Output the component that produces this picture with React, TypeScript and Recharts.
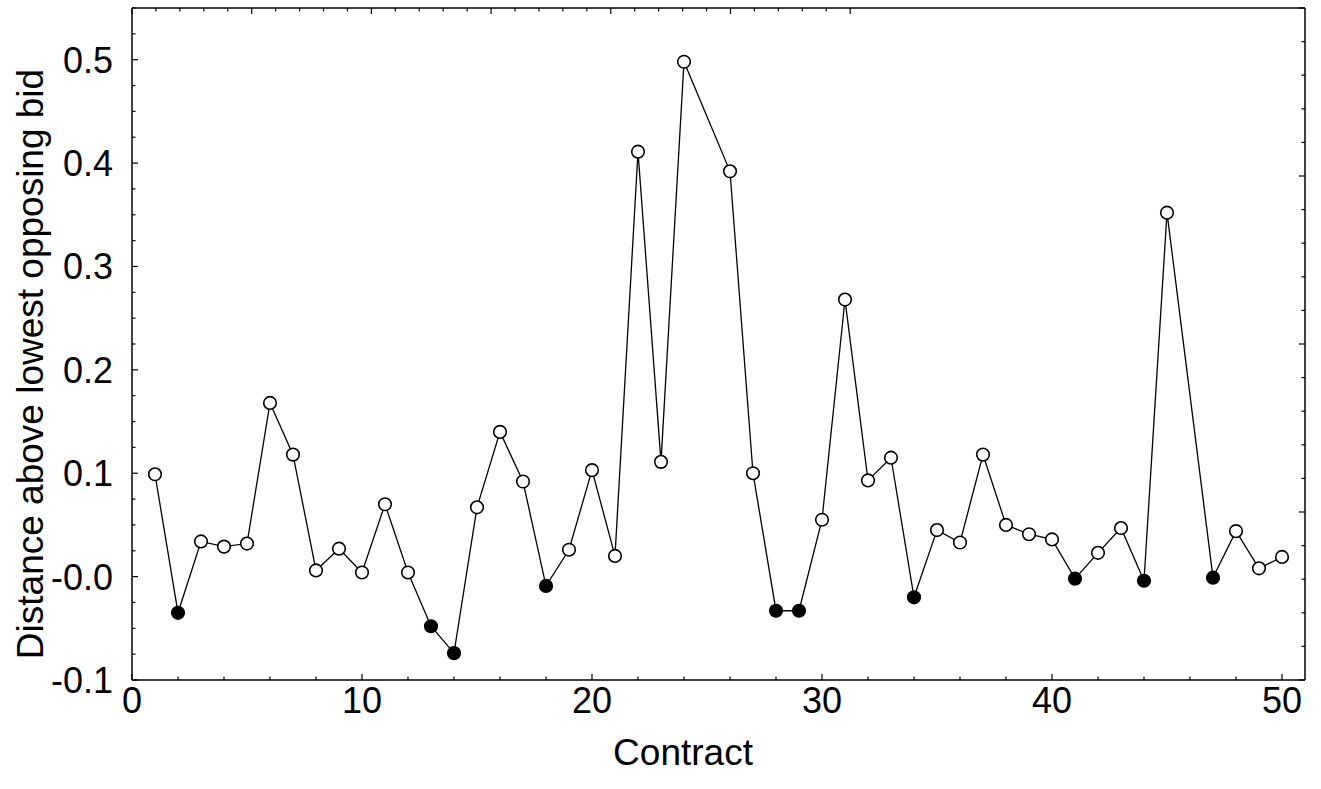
import { LineChart, Line, XAxis, YAxis } from 'recharts';

// contract number and distance above lowest opposing bid (25 and 46 have no value)
const contracts = [
  1, 2, 3, 4, 5, 6, 7, 8, 9, 10, 11, 12, 13, 14, 15, 16, 17, 18, 19, 20, 21, 22, 23, 24, 25,
  26, 27, 28, 29, 30, 31, 32, 33, 34, 35, 36, 37, 38, 39, 40, 41, 42, 43, 44, 45, 46, 47, 48, 49, 50,
];
const distances: (number | null)[] = [
  0.099, -0.035, 0.034, 0.029, 0.032, 0.168, 0.118, 0.006, 0.027, 0.004,
  0.07, 0.004, -0.048, -0.074, 0.067, 0.14, 0.092, -0.009, 0.026, 0.103,
  0.02, 0.411, 0.111, 0.498, null, 0.392, 0.1, -0.033, -0.033, 0.055,
  0.268, 0.093, 0.115, -0.02, 0.045, 0.033, 0.118, 0.05, 0.041, 0.036,
  -0.002, 0.023, 0.047, -0.004, 0.352, null, -0.001, 0.044, 0.008, 0.019,
];

const xMajor = [0, 10, 20, 30, 40, 50];
const xTicks = [0, 2, 4, 6, 8, 10, 12, 14, 16, 18, 20, 22, 24, 26, 28, 30, 32, 34, 36, 38, 40, 42, 44, 46, 48, 50];
const yMajor = [-0.1, 0, 0.1, 0.2, 0.3, 0.4, 0.5];
const yLabels = ['-0.1', '-0.0', '0.1', '0.2', '0.3', '0.4', '0.5'];

const data = contracts.map((c, i) => ({ x: c, v: distances[i] }));

const range = (a: number, b: number, step: number) => {
  const out: number[] = [];
  for (let v = a; v <= b + 1e-9; v += step) out.push(Math.round(v * 1000) / 1000);
  return out;
};
const yTicks = range(-0.1, 0.55, 0.025);
const topTicks = range(0, 30, 1);
const rightTicks = range(0, 20, 1);

const FONT = 'Arial, "Liberation Sans", sans-serif';
const MAJ = 6;
const MIN = 3.5;

const isMajorY = (v: number) => yMajor.some((m) => Math.abs(m - v) < 1e-6);

const BottomTick = (p: any) => {
  const v = p.payload.value;
  const major = xMajor.includes(v);
  return (
    <g>
      <line x1={p.x} x2={p.x} y1={p.y} y2={p.y - (major ? MAJ : MIN)} stroke="#000" strokeWidth={1.2} />
      {major && (
        <text x={p.x} y={p.y + 33} textAnchor="middle" fontSize={36} fontFamily={FONT} fill="#000">
          {v}
        </text>
      )}
    </g>
  );
};

const LeftTick = (p: any) => {
  const v = p.payload.value;
  const major = isMajorY(v);
  const idx = yMajor.findIndex((m) => Math.abs(m - v) < 1e-6);
  return (
    <g>
      <line x1={p.x} x2={p.x + (major ? MAJ : MIN)} y1={p.y} y2={p.y} stroke="#000" strokeWidth={1.2} />
      {major && (
        <text x={p.x - 19} y={p.y + 13} textAnchor="end" fontSize={36} fontFamily={FONT} fill="#000">
          {yLabels[idx]}
        </text>
      )}
    </g>
  );
};

const TopTick = (p: any) => {
  const major = p.payload.value % 5 === 0;
  return <line x1={p.x} x2={p.x} y1={p.y} y2={p.y + (major ? MAJ : MIN)} stroke="#000" strokeWidth={1.2} />;
};

const RightTick = (p: any) => {
  const major = p.payload.value % 5 === 0;
  return <line x1={p.x} x2={p.x - (major ? MAJ : MIN)} y1={p.y} y2={p.y} stroke="#000" strokeWidth={1.2} />;
};

const Dot = (p: any) => {
  const { cx, cy, payload, index } = p;
  if (payload.v == null || cx == null || cy == null) return <g key={`d${index}`} />;
  const filled = payload.v < 0;
  return (
    <circle
      key={`d${index}`}
      cx={cx}
      cy={cy}
      r={6.3}
      fill={filled ? '#000' : '#fff'}
      stroke="#000"
      strokeWidth={1.6}
    />
  );
};

const axisLine = { stroke: '#000', strokeWidth: 1.5 };

export default function App() {
  return (
    <div style={{ position: 'absolute', left: 0, top: 0, background: '#fff' }}>
      <LineChart width={1321} height={789} data={data} margin={{ top: 7, left: 131, right: 15, bottom: 108 }}>
        <XAxis
          xAxisId="bottom"
          dataKey="x"
          type="number"
          domain={[0, 51]}
          ticks={xTicks}
          interval={0}
          height={1}
          tickSize={0}
          tickMargin={0}
          axisLine={axisLine}
          tick={BottomTick}
          allowDataOverflow
        />
        <XAxis
          xAxisId="top"
          orientation="top"
          type="number"
          domain={[0, 30]}
          ticks={topTicks}
          interval={0}
          height={1}
          tickSize={0}
          tickMargin={0}
          axisLine={axisLine}
          tick={TopTick}
          allowDataOverflow
        />
        <YAxis
          yAxisId="left"
          type="number"
          domain={[-0.1, 0.55]}
          ticks={yTicks}
          interval={0}
          width={1}
          tickSize={0}
          tickMargin={0}
          axisLine={axisLine}
          tick={LeftTick}
          allowDataOverflow
        />
        <YAxis
          yAxisId="right"
          orientation="right"
          type="number"
          domain={[0, 20]}
          ticks={rightTicks}
          interval={0}
          width={1}
          tickSize={0}
          tickMargin={0}
          axisLine={axisLine}
          tick={RightTick}
          allowDataOverflow
        />
        <Line
          xAxisId="bottom"
          yAxisId="left"
          type="linear"
          dataKey="v"
          stroke="#000"
          strokeWidth={1.3}
          connectNulls
          dot={Dot}
          activeDot={false}
          isAnimationActive={false}
        />
        <text x={683} y={765} textAnchor="middle" fontSize={37} fontFamily={FONT} fill="#000">
          Contract
        </text>
        <text
          x={43}
          y={364}
          transform="rotate(-90 43 364)"
          textAnchor="middle"
          fontSize={37}
          fontFamily={FONT}
          fill="#000"
        >
          Distance above lowest opposing bid
        </text>
      </LineChart>
    </div>
  );
}
